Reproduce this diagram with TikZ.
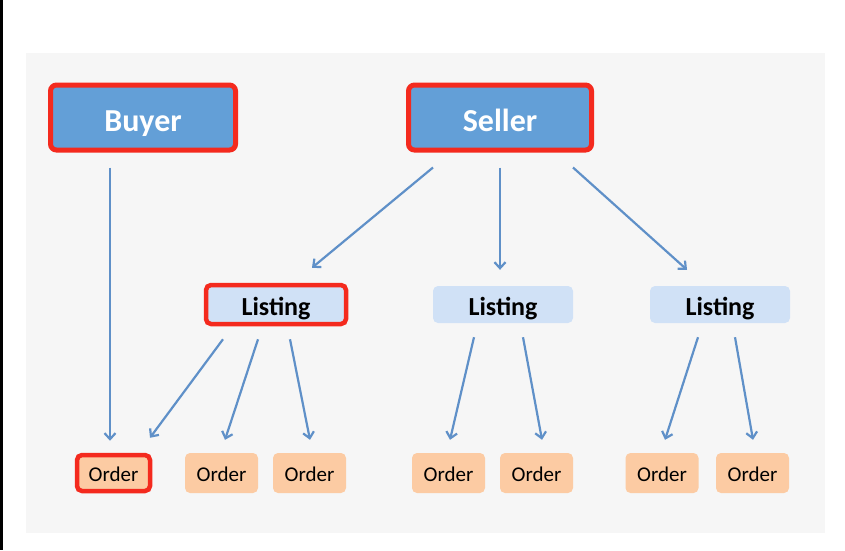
\documentclass[tikz,border=0pt]{standalone}
\usepackage{fontspec}
\setmainfont{Carlito}
\usepackage{tikz}
\usetikzlibrary{arrows.meta}

\definecolor{panelgray}{HTML}{F6F6F6}
\definecolor{topblue}{HTML}{639FD7}
\definecolor{listblue}{HTML}{D0E1F6}
\definecolor{orderpeach}{HTML}{FCCBA3}
\definecolor{markred}{HTML}{F42A1E}
\definecolor{linkblue}{HTML}{5F90C8}

\begin{document}
\begin{tikzpicture}[x=1pt,y=-1pt]
\tikzstyle{every node}+=[inner sep=0pt]
\tikzstyle{topbox}=[rectangle,rounded corners=6pt,fill=topblue,text=white,text height=28pt,text depth=0pt,font=\fontsize{32}{36}\selectfont\bfseries]
\tikzstyle{listbox}=[rectangle,rounded corners=5pt,fill=listblue,minimum width=140pt,minimum height=37pt,text height=21pt,text depth=0pt,font=\fontsize{26}{30}\selectfont\bfseries]
\tikzstyle{orderbox}=[rectangle,rounded corners=5pt,fill=orderpeach,minimum width=73pt,minimum height=40pt,text height=17pt,text depth=0pt,font=\fontsize{21}{24}\selectfont]
\tikzstyle{marked}=[draw=markred,line width=5pt]
\tikzstyle{link}=[draw=linkblue,line width=2.2pt,-{Straight Barb[length=6pt,width=11pt]}]
\useasboundingbox (0,0) rectangle (845,550);
\fill [white] (0,0) rectangle (845,550);
\fill [black] (0,0) rectangle (3,550);
\fill [panelgray] (26,53) rectangle (825,533);
% top row
\node [topbox,marked,minimum width=185pt,minimum height=65pt] (buyer) at (143,117.5) {Buyer};
\node [topbox,marked,minimum width=183pt,minimum height=65pt] (seller) at (500,117.5) {Seller};
% listings
\node [listbox,marked,line width=4.5pt,minimum height=39pt] (list1) at (276,304.5) {Listing};
\node [listbox] (list2) at (503,304.5) {Listing};
\node [listbox] (list3) at (720,304.5) {Listing};
% orders
\node [orderbox,marked,line width=4.5pt,minimum height=36pt] (ord1) at (113.5,473) {Order};
\node [orderbox] (ord2) at (221.5,473) {Order};
\node [orderbox] (ord3) at (309.5,473) {Order};
\node [orderbox] (ord4) at (448.5,473) {Order};
\node [orderbox] (ord5) at (536.5,473) {Order};
\node [orderbox] (ord6) at (662,473) {Order};
\node [orderbox] (ord7) at (752.5,473) {Order};
% links
\draw [link] ([shift={(-33pt,-15pt)}]buyer.south) -- ([shift={(-3.5pt,12pt)}]ord1.north);
\draw [link] ([shift={(-67pt,-15pt)}]seller.south) -- ([shift={(36pt,15pt)}]list1.north);
\draw [link] ([shift={(0pt,-15pt)}]seller.south) -- ([shift={(-3pt,16pt)}]list2.north);
\draw [link] ([shift={(73pt,-15pt)}]seller.south) -- ([shift={(-33pt,16pt)}]list3.north);
\draw [link] ([shift={(-53pt,-13pt)}]list1.south) -- ([shift={(36.5pt,15pt)}]ord1.north);
\draw [link] ([shift={(-18pt,-13pt)}]list1.south) -- ([shift={(3.5pt,13pt)}]ord2.north);
\draw [link] ([shift={(14pt,-13pt)}]list1.south) -- ([shift={(0.5pt,13pt)}]ord3.north);
\draw [link] ([shift={(-29pt,-14pt)}]list2.south) -- ([shift={(1.5pt,13pt)}]ord4.north);
\draw [link] ([shift={(20pt,-14pt)}]list2.south) -- ([shift={(5.5pt,13pt)}]ord5.north);
\draw [link] ([shift={(-22pt,-14pt)}]list3.south) -- ([shift={(3pt,13pt)}]ord6.north);
\draw [link] ([shift={(15pt,-14pt)}]list3.south) -- ([shift={(0.5pt,13pt)}]ord7.north);
\end{tikzpicture}
\end{document}
